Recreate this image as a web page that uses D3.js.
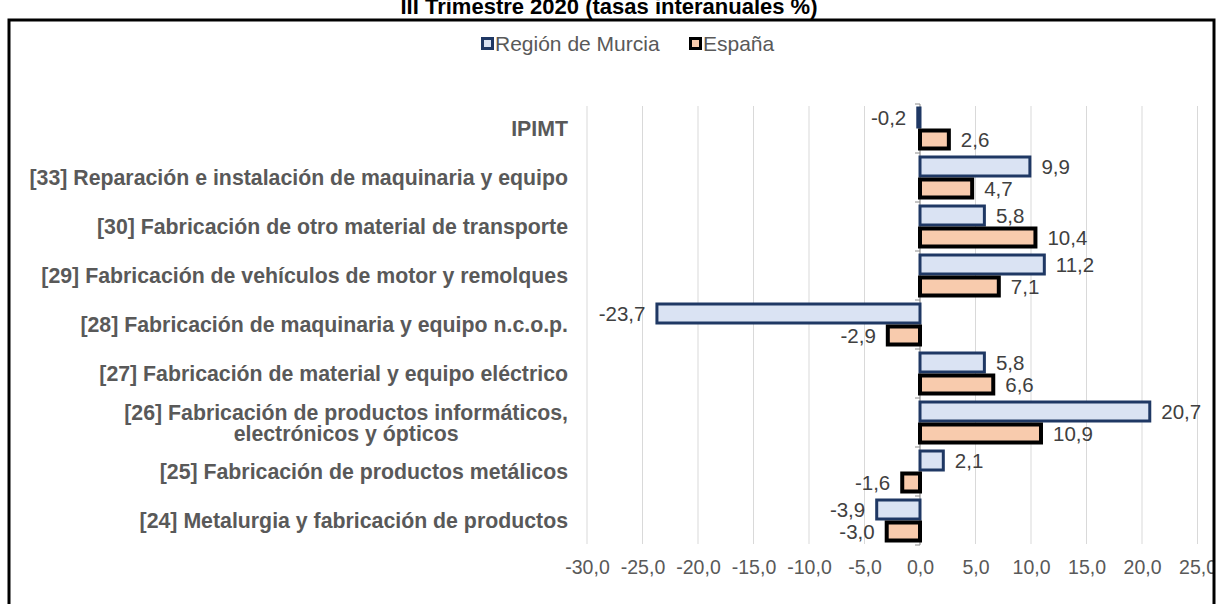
<!DOCTYPE html>
<html>
<head>
<meta charset="utf-8">
<script src="https://cdn.jsdelivr.net/npm/d3@7"></script>
<style>
  body { margin: 0; background: #fff; }
  svg { display: block; font-family: "Liberation Sans", Arial, sans-serif; }
</style>
</head>
<body>
<div id="chart"></div>
<script>
// data (top to bottom)
var categories = [
  "IPIMT",
  "[33] Reparación e instalación de maquinaria y equipo",
  "[30] Fabricación de otro material de transporte",
  "[29] Fabricación de vehículos de motor y remolques",
  "[28] Fabricación de maquinaria y equipo n.c.o.p.",
  "[27] Fabricación de material y equipo eléctrico",
  "[26] Fabricación de productos informáticos,\nelectrónicos y ópticos",
  "[25] Fabricación de productos metálicos",
  "[24] Metalurgia y fabricación de productos"
];
var murcia = [-0.2, 9.9, 5.8, 11.2, -23.7, 5.8, 20.7, 2.1, -3.9];
var espana = [2.6, 4.7, 10.4, 7.1, -2.9, 6.6, 10.9, -1.6, -3.0];
var seriesNames = ["Región de Murcia", "España"];
var xTicks = [-30, -25, -20, -15, -10, -5, 0, 5, 10, 15, 20, 25, 30];
var title = "III Trimestre 2020 (tasas interanuales %)";

var svgWidth = 1219, svgHeight = 604;

var svg = d3.select("#chart").append("svg")
  .attr("width", svgWidth)
  .attr("height", svgHeight);

var es = d3.formatLocale({decimal: ",", thousands: ".", grouping: [3], currency: ["", " €"], minus: "-"});
var fmt = es.format(".1f");

// title (top cropped off)
svg.append("text")
  .attr("x", 609)
  .attr("y", 14)
  .attr("text-anchor", "middle")
  .attr("font-size", 22)
  .attr("font-weight", "bold")
  .attr("fill", "#000")
  .text(title);

// clip to the chart box
svg.append("clipPath").attr("id", "box")
  .append("rect").attr("x", 8).attr("y", 19).attr("width", 1206).attr("height", 600);

var g = svg.append("g").attr("clip-path", "url(#box)");

g.append("rect")
  .attr("x", 8).attr("y", 19).attr("width", 1206).attr("height", 600)
  .attr("fill", "#fff");

// scales
var x = d3.scaleLinear().domain([-30, 30]).range([587, 1253]);
var y = d3.scaleBand().domain(categories).range([104, 545]);

// gridlines
g.append("g").selectAll("line")
  .data(xTicks)
  .enter().append("line")
  .attr("x1", d => x(d)).attr("x2", d => x(d))
  .attr("y1", 106).attr("y2", 544)
  .attr("stroke", "#d9d9d9")
  .attr("stroke-width", 1);

// x axis labels
var xAxis = d3.axisBottom(x).tickValues(xTicks).tickFormat(fmt).tickSize(0).tickPadding(0);
var xg = g.append("g").attr("transform", "translate(0,560)").call(xAxis);
xg.select(".domain").remove();
xg.selectAll("text")
  .attr("font-size", 19.5)
  .attr("font-family", "\"Liberation Sans\", Arial, sans-serif")
  .attr("fill", "#595959")
  .attr("dy", "0.71em");

// category axis at zero
var axisCol = "#8c8c8c";
g.append("line")
  .attr("x1", x(0)).attr("x2", x(0))
  .attr("y1", 104).attr("y2", 545)
  .attr("stroke", axisCol);
var bounds = categories.map(c => y(c)).concat([545]);
g.append("g").selectAll("line")
  .data(bounds)
  .enter().append("line")
  .attr("x1", x(0) - 5).attr("x2", x(0))
  .attr("y1", d => d).attr("y2", d => d)
  .attr("stroke", axisCol);

// category labels
var catSize = 21.3;
g.append("g").selectAll("text")
  .data(categories)
  .enter().append("text")
  .attr("x", 568)
  .attr("text-anchor", "end")
  .attr("font-size", catSize)
  .attr("font-weight", "bold")
  .attr("fill", "#595959")
  .each(function(d) {
    var lines = d.split("\n");
    var cy = y(d) + y.bandwidth() / 2;
    var el = d3.select(this);
    var lh = 21;
    var y0 = cy - (lines.length - 1) * lh / 2 + 7.5;
    if (lines.length > 1) {
      // measure first line to centre the second under it
      var tmp = svg.append("text").attr("font-size", catSize).attr("font-weight", "bold").text(lines[0]);
      var w = tmp.node().getComputedTextLength();
      tmp.remove();
      el.attr("text-anchor", "middle");
      lines.forEach(function(l, i) {
        el.append("tspan").attr("x", 568 - w / 2).attr("y", y0 + i * lh).text(l);
      });
    } else {
      el.attr("y", y0).text(d);
    }
  });

// bars
var slot = 22;
var series = [
  {name: seriesNames[0], values: murcia, fill: "#dae3f3", stroke: "#1f3864", sw: 3, off: -slot},
  {name: seriesNames[1], values: espana, fill: "#f8cbad", stroke: "#000000", sw: 4, off: 0}
];

series.forEach(function(s) {
  var rows = categories.map((c, i) => ({cat: c, v: s.values[i]}));
  g.append("g").selectAll("rect")
    .data(rows)
    .enter().append("rect")
    .attr("x", d => x(Math.min(0, d.v)))
    .attr("width", d => Math.abs(x(d.v) - x(0)))
    .attr("y", d => y(d.cat) + y.bandwidth() / 2 + s.off + s.sw / 2)
    .attr("height", slot - s.sw)
    .attr("fill", s.fill)
    .attr("stroke", s.stroke)
    .attr("stroke-width", s.sw);

  g.append("g").selectAll("text")
    .data(rows)
    .enter().append("text")
    .attr("x", d => d.v >= 0 ? x(d.v) + s.sw / 2 + 10 : x(d.v) - s.sw / 2 - 10)
    .attr("y", d => y(d.cat) + y.bandwidth() / 2 + s.off + slot / 2 + 7)
    .attr("text-anchor", d => d.v >= 0 ? "start" : "end")
    .attr("font-size", 20.5)
    .attr("fill", "#404040")
    .text(d => fmt(d.v));
});

// legend
var legend = g.append("g");
var legX = [481, 689];
series.forEach(function(s, i) {
  legend.append("rect")
    .attr("x", legX[i] + 1.5).attr("y", 38.5)
    .attr("width", 10).attr("height", 10)
    .attr("fill", s.fill)
    .attr("stroke", s.stroke)
    .attr("stroke-width", 3);
  legend.append("text")
    .attr("x", legX[i] + 14)
    .attr("y", 51)
    .attr("font-size", 21)
    .attr("fill", "#595959")
    .text(s.name);
});

// chart box border
svg.append("rect")
  .attr("x", 9).attr("y", 20).attr("width", 1205).attr("height", 620)
  .attr("fill", "none")
  .attr("stroke", "#000")
  .attr("stroke-width", 3);
</script>
</body>
</html>
